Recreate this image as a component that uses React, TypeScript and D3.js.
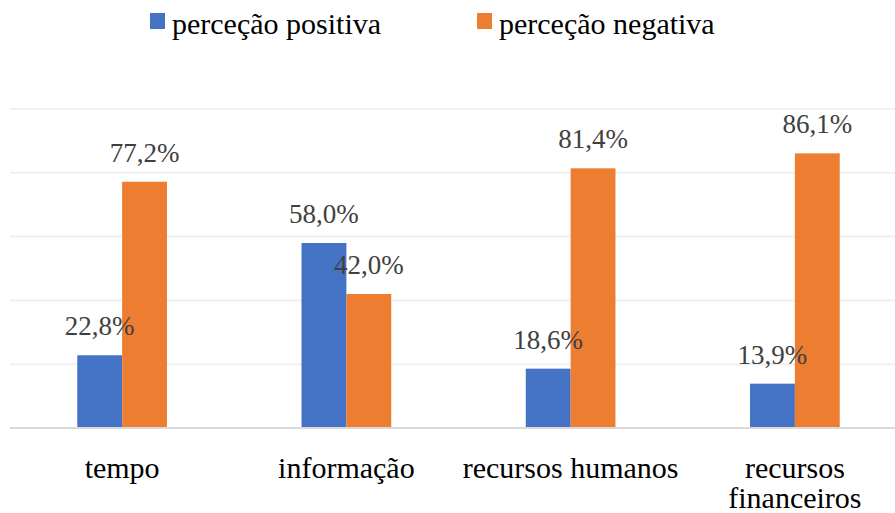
import React from "react";
import * as d3 from "d3";

const WIDTH = 895;
const HEIGHT = 513;

const categories = ["tempo", "informação", "recursos humanos", "recursos financeiros"];
const seriesNames = ["perceção positiva", "perceção negativa"];
const positiva = [22.8, 58.0, 18.6, 13.9];
const negativa = [77.2, 42.0, 81.4, 86.1];
const gridTicks = [20, 40, 60, 80, 100];
const COLORS = ["#4472C4", "#ED7D31"];

const F = '"Liberation Serif"';

// the plot area runs past the right edge of the picture (cropped in the source)
const xScale = d3.scaleBand().domain(categories).range([10, 907]).padding(0);
const yScale = d3.scaleLinear().domain([0, 100]).range([428, 109]);
const barW = xScale.bandwidth() * 0.2;
const values = [positiva, negativa];

const fmt = (v: number) => v.toFixed(1).replace(".", ",") + "%";
const wrapLabel = (label: string) => (label.length > 18 ? label.split(" ") : [label]);
const center = (c: string) => (xScale(c) ?? 0) + xScale.bandwidth() / 2;

const layer: React.CSSProperties = { position: "absolute", left: 0, top: 0 };

export default function App() {
  const bars: { key: string; x: number; v: number; s: number }[] = [];
  categories.forEach((c, i) => {
    values.forEach((vals, s) => {
      bars.push({ key: c + s, x: center(c) - barW + s * barW, v: vals[i], s });
    });
  });

  return (
    <div style={{ position: "absolute", left: 0, top: 0, width: WIDTH, height: HEIGHT }}>
      {/* shapes */}
      <svg width={WIDTH} height={HEIGHT} style={layer}>
        {gridTicks.map((t) => (
          <line key={"g" + t} x1={10} x2={907} y1={yScale(t)} y2={yScale(t)} stroke="#f0f0f0" strokeWidth={2} />
        ))}
        {bars.map((b) => (
          <rect
            key={"r" + b.key}
            x={b.x}
            y={yScale(b.v)}
            width={barW}
            height={yScale(0) - yScale(b.v)}
            fill={COLORS[b.s]}
          />
        ))}
        <line x1={10} x2={907} y1={yScale(0)} y2={yScale(0)} stroke="#d9d9d9" strokeWidth={2} />
        {seriesNames.map((name, s) => (
          <rect key={"lr" + s} x={s === 0 ? 150 : 477} y={13} width={15} height={16} fill={COLORS[s]} />
        ))}
      </svg>
      {/* texts */}
      <svg width={WIDTH} height={HEIGHT} style={layer}>
        {bars.map((b) => (
          <text
            key={"t" + b.key}
            x={b.x + barW / 2}
            y={yScale(b.v) - 20}
            textAnchor="middle"
            style={{ fontFamily: F, fontSize: 27 }}
            fill="#404040"
          >
            {fmt(b.v)}
          </text>
        ))}
        {categories.flatMap((c) =>
          wrapLabel(c).map((line, li) => (
            <text
              key={"c" + c + li}
              x={center(c)}
              y={478 + li * 30}
              textAnchor="middle"
              style={{ fontFamily: F, fontSize: 30 }}
            >
              {line}
            </text>
          ))
        )}
        {seriesNames.map((name, s) => (
          <text key={"lt" + s} x={(s === 0 ? 150 : 477) + 22} y={34} style={{ fontFamily: F, fontSize: 30 }}>
            {name}
          </text>
        ))}
      </svg>
    </div>
  );
}
